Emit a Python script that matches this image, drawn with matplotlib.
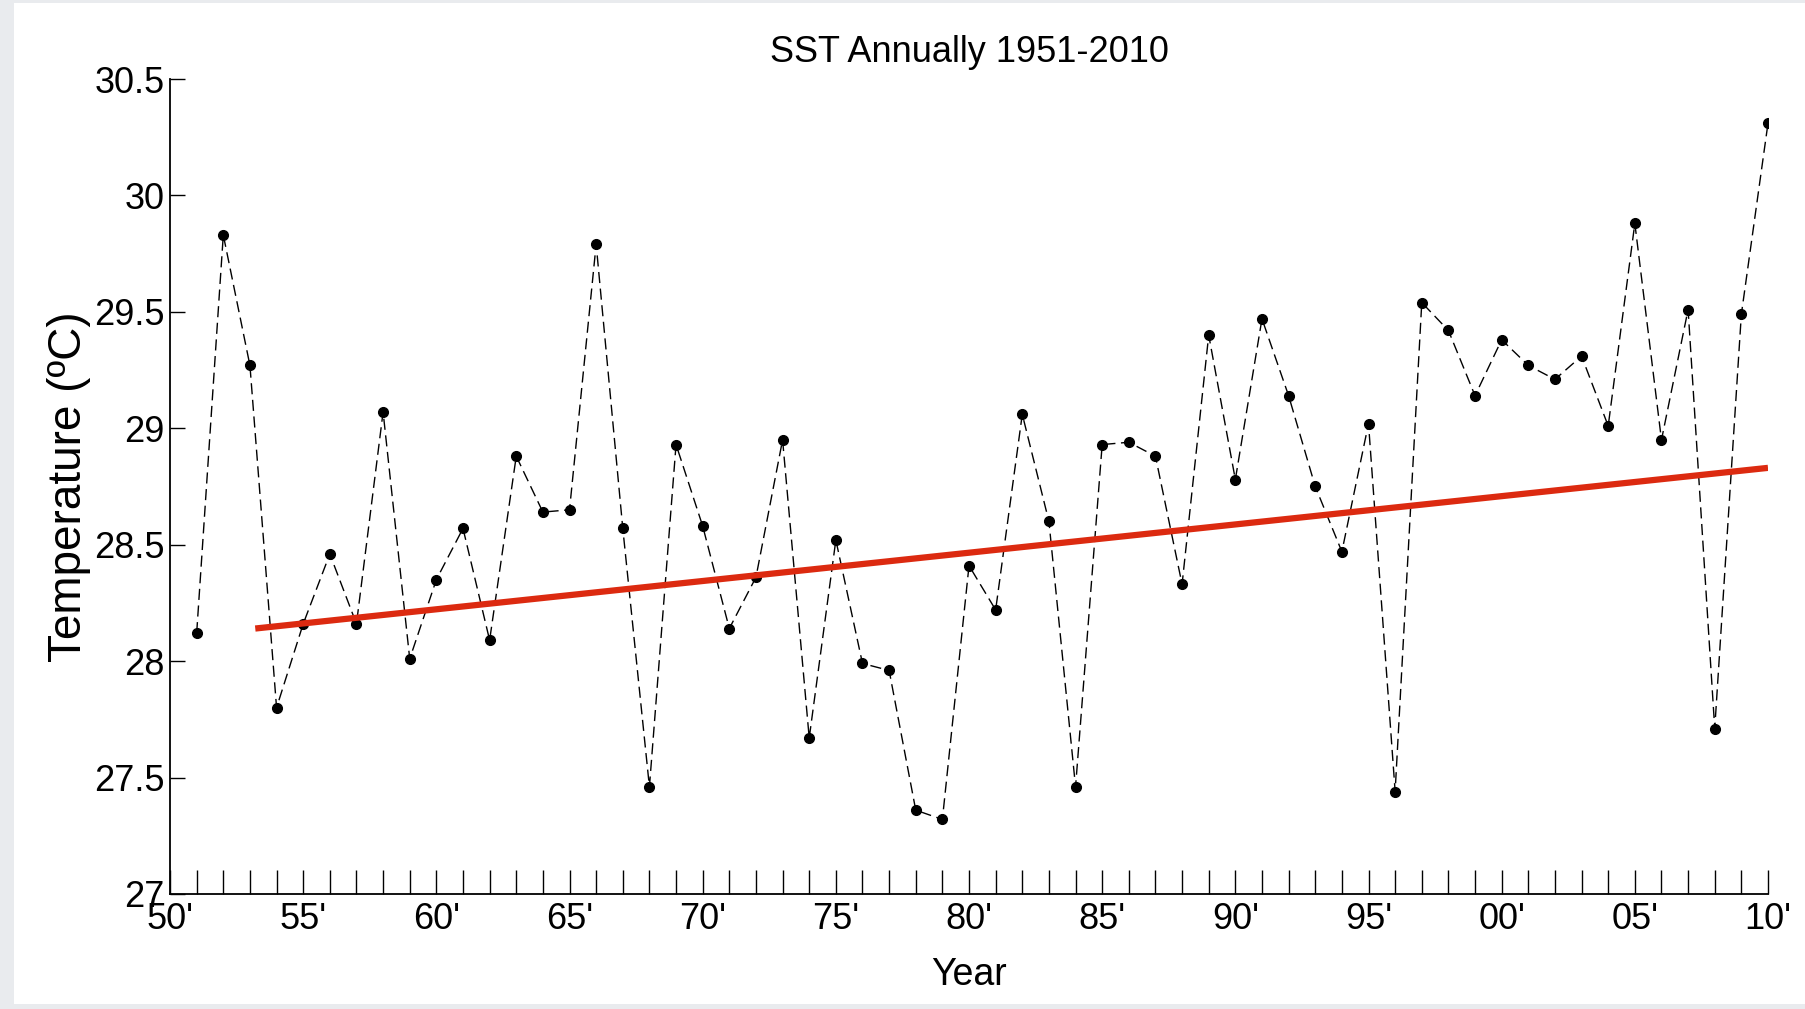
import matplotlib
matplotlib.use("Agg")
import matplotlib.pyplot as plt
from matplotlib.patches import Rectangle

# annual SST values, 1951-2010
years = list(range(1951, 2011))
sst = [28.12, 29.83, 29.27, 27.80, 28.16, 28.46, 28.16, 29.07, 28.01, 28.35,
       28.57, 28.09, 28.88, 28.64, 28.65, 29.79, 28.57, 27.46, 28.93, 28.58,
       28.14, 28.36, 28.95, 27.67, 28.52, 27.99, 27.96, 27.36, 27.32, 28.41,
       28.22, 29.06, 28.60, 27.46, 28.93, 28.94, 28.88, 28.33, 29.40, 28.78,
       29.47, 29.14, 28.75, 28.47, 29.02, 27.44, 29.54, 29.42, 29.14, 29.38,
       29.27, 29.21, 29.31, 29.01, 29.88, 28.95, 29.51, 27.71, 29.49, 30.31]

# trend line end points
trend_years = [1953.2, 2010]
trend_vals = [28.14, 28.83]

xtick_years = list(range(1950, 2011, 5))
xtick_labels = ["50'", "55'", "60'", "65'", "70'", "75'", "80'", "85'",
                "90'", "95'", "00'", "05'", "10'"]
ytick_vals = [27, 27.5, 28, 28.5, 29, 29.5, 30, 30.5]
ytick_labels = ["27", "27.5", "28", "28.5", "29", "29.5", "30", "30.5"]

plt.rcParams['font.family'] = ['Liberation Sans', 'DejaVu Sans']

fig = plt.figure(figsize=(18.05, 10.09), dpi=100, facecolor='#e9ebee')
fig.patches.append(Rectangle((0.008, 0.005), 0.992, 0.992, transform=fig.transFigure,
                             facecolor='white', edgecolor='none', zorder=-1))
ax = fig.add_axes([0.0942, 0.114, 0.8853, 0.8077])
ax.set_facecolor('white')

ax.plot(years, sst, color='black', linestyle='--', dashes=(8, 4), linewidth=1.0,
        marker='o', markersize=7, markerfacecolor='black', markeredgecolor='black')
ax.plot(trend_years, trend_vals, color='#dc2a10', linewidth=4.5, solid_capstyle='butt')

ax.set_xlim(1950, 2010)
ax.set_ylim(27, 30.5)
ax.set_xticks(xtick_years)
ax.set_xticklabels(xtick_labels)
ax.set_xticks(years, minor=True)
ax.set_yticks(ytick_vals)
ax.set_yticklabels(ytick_labels)

ax.spines['top'].set_visible(False)
ax.spines['right'].set_visible(False)
for s in ['left', 'bottom']:
    ax.spines[s].set_linewidth(1.3)

ax.tick_params(axis='x', which='both', direction='in', length=17, width=1.0,
               labelsize=26, pad=6)
ax.tick_params(axis='y', which='major', direction='in', length=11, width=1.0,
               labelsize=26, pad=4)

ax.set_title('SST Annually 1951-2010', fontsize=26, pad=12)
ax.set_xlabel('Year', fontsize=27, labelpad=14)
ax.set_ylabel('Temperature (ºC)', fontsize=33, labelpad=2)

fig.savefig('out.png', dpi=100, facecolor=fig.get_facecolor())
